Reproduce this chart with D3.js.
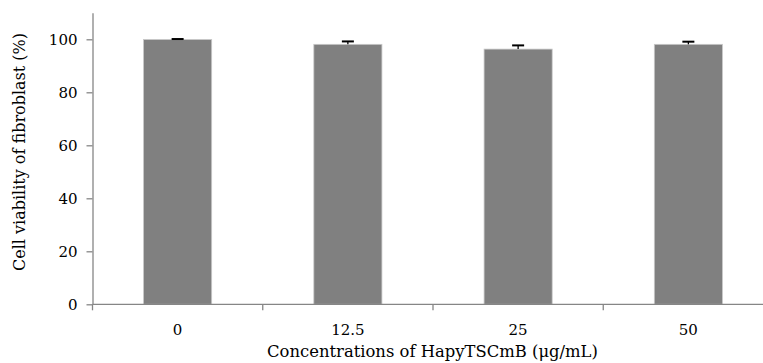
<!DOCTYPE html>
<html>
<head>
<meta charset="utf-8">
<script src="https://cdn.jsdelivr.net/npm/d3@7"></script>
<style>
  body { margin: 0; background: #fff; }
</style>
</head>
<body>
<div id="chart"></div>
<script>
const categories = ["0", "12.5", "25", "50"];
const viability = [99.9, 98.1, 96.3, 98.1];
const errors = [0.2, 1.1, 1.4, 1.0];
const yTicks = [0, 20, 40, 60, 80, 100];

const FONT = "'DejaVu Serif', 'Liberation Serif', serif";
const W = 763, H = 363;
const svg = d3.select("#chart").append("svg")
  .attr("width", W).attr("height", H);

const x = d3.scaleBand()
  .domain(categories)
  .range([92.5, 773.5])
  .paddingInner(0.6)
  .paddingOuter(0.3);

const y = d3.scaleLinear()
  .domain([0, 110])
  .range([304.3, 12.8]);

const axisColor = "#868686";

// bars
svg.selectAll("rect.bar")
  .data(categories)
  .enter().append("rect")
  .attr("class", "bar")
  .attr("x", d => x(d))
  .attr("y", (d, i) => y(viability[i]))
  .attr("width", x.bandwidth())
  .attr("height", (d, i) => y(0) - y(viability[i]))
  .attr("fill", "#808080")
  .attr("stroke", "#c8c8c8")
  .attr("stroke-width", 0.8);

// error bars (upper only)
const eb = svg.append("g");
categories.forEach((c, i) => {
  const cx = x(c) + x.bandwidth() / 2;
  const top = y(viability[i] + errors[i]);
  eb.append("line")
    .attr("x1", cx).attr("x2", cx)
    .attr("y1", y(viability[i])).attr("y2", top)
    .attr("stroke", "#000").attr("stroke-width", 1.3);
  eb.append("line")
    .attr("x1", cx - 6).attr("x2", cx + 6)
    .attr("y1", top).attr("y2", top)
    .attr("stroke", "#000").attr("stroke-width", 2);
});

// y axis
const yAxis = svg.append("g")
  .attr("transform", "translate(92.5,0)")
  .call(d3.axisLeft(y).tickValues(yTicks).tickSize(6).tickSizeOuter(0).tickPadding(9));
yAxis.attr("font-family", null);
yAxis.select(".domain").attr("stroke", axisColor).attr("stroke-width", 1.3);
yAxis.selectAll(".tick line").attr("stroke", axisColor).attr("stroke-width", 1.3);
yAxis.selectAll("text").style("font-family", FONT).style("font-size", "15px").attr("fill", "#000");

// x axis with ticks at band boundaries
const xAxis = svg.append("g").attr("transform", `translate(0,${y(0)})`);
xAxis.append("line")
  .attr("x1", x.range()[0]).attr("x2", x.range()[1])
  .attr("stroke", axisColor).attr("stroke-width", 1.3);
const bounds = categories.map(c => x(c) - (x.step() - x.bandwidth()) / 2);
bounds.forEach(b => {
  xAxis.append("line")
    .attr("x1", b).attr("x2", b)
    .attr("y1", 0).attr("y2", 6)
    .attr("stroke", axisColor).attr("stroke-width", 1.3);
});
xAxis.selectAll("text.lab")
  .data(categories)
  .enter().append("text")
  .attr("class", "lab")
  .attr("x", d => x(d) + x.bandwidth() / 2)
  .attr("y", 31)
  .attr("text-anchor", "middle")
  .style("font-family", FONT)
  .style("font-size", "15px")
  .text(d => d);

// axis titles
svg.append("text")
  .attr("x", 432.5).attr("y", 357)
  .attr("text-anchor", "middle")
  .style("font-family", FONT)
  .style("font-size", "16.4px")
  .text("Concentrations of HapyTSCmB (μg/mL)");

svg.append("text")
  .attr("transform", "translate(25,152) rotate(-90)")
  .attr("text-anchor", "middle")
  .style("font-family", FONT)
  .style("font-size", "16px")
  .text("Cell viability of fibroblast (%)");
</script>
</body>
</html>
